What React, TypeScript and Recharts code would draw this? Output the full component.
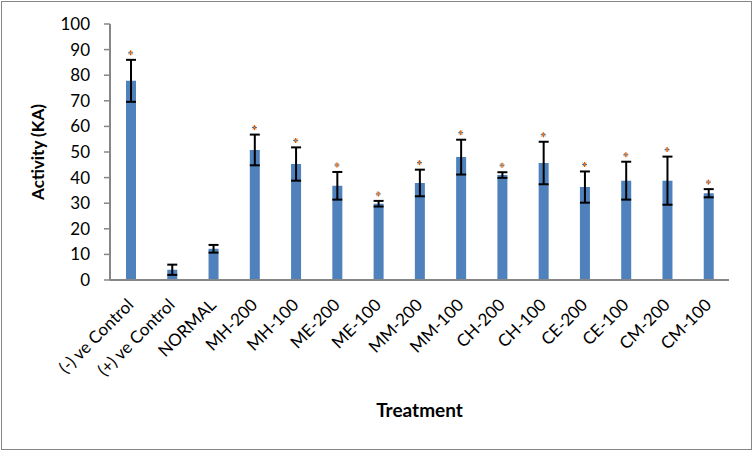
import React from 'react';
import { ComposedChart, Bar, ErrorBar, Scatter, XAxis, YAxis } from 'recharts';

const categories = [
  '(-) ve Control', '(+) ve Control', 'NORMAL', 'MH-200', 'MH-100', 'ME-200', 'ME-100',
  'MM-200', 'MM-100', 'CH-200', 'CH-100', 'CE-200', 'CE-100', 'CM-200', 'CM-100',
];
const activity = [77.8, 4, 12.2, 50.8, 45.3, 36.8, 29.8, 37.9, 48, 41, 45.7, 36.3, 38.8, 38.8, 33.9];
const errors = [8.2, 2, 1.5, 6, 6.5, 5.4, 1.1, 5.2, 6.8, 1.1, 8.3, 6.1, 7.4, 9.4, 1.6];
// which bars carry a significance star
const starred = [true, false, false, true, true, true, true, true, true, true, true, true, true, true, true];
const yTicks = [0, 10, 20, 30, 40, 50, 60, 70, 80, 90, 100];

const data = categories.map((name, i) => ({
  name,
  value: activity[i],
  err: errors[i],
  top: starred[i] ? activity[i] + errors[i] : null,
}));

const FONT = 'Lato, "Open Sans", sans-serif';
const GREY = '#868686';

const XTick = (props: any) => {
  const { x, y, payload } = props;
  const ex = x + 4;
  const ey = y + 26;
  return (
    <text
      x={ex}
      y={ey}
      transform={`rotate(-45 ${ex} ${ey})`}
      textAnchor="end"
      fontSize={17}
      fontFamily={FONT}
      fill="#000"
    >
      {payload.value}
    </text>
  );
};

const Star = (props: any) => {
  const { cx, cy } = props;
  if (cx == null || cy == null || isNaN(cy)) return null;
  const sy = cy - 7;
  return (
    <g>
      <line x1={cx - 2.5} y1={sy} x2={cx + 2.5} y2={sy} stroke="#2E75B6" strokeWidth={1.2} />
      <line x1={cx} y1={sy - 2.5} x2={cx} y2={sy + 2.5} stroke="#C55A11" strokeWidth={1.3} />
      <line x1={cx - 1.8} y1={sy - 1.8} x2={cx + 1.8} y2={sy + 1.8} stroke="#ED7D31" strokeWidth={0.9} />
      <line x1={cx - 1.8} y1={sy + 1.8} x2={cx + 1.8} y2={sy - 1.8} stroke="#ED7D31" strokeWidth={0.9} />
    </g>
  );
};

export default function App() {
  return (
    <div style={{ position: 'absolute', left: 0, top: 0, width: 753, height: 451, background: '#fff' }}>
      <ComposedChart
        width={753}
        height={451}
        data={data}
        margin={{ top: 24, right: 24, left: 0, bottom: 0 }}
      >
        <XAxis
          dataKey="name"
          interval={0}
          height={171}
          tickLine={false}
          tickSize={0}
          tickMargin={0}
          axisLine={{ stroke: GREY, strokeWidth: 2 }}
          tick={<XTick />}
          label={{
            content: (p: any) => {
              const vb = p.viewBox;
              return (
                <text
                  x={vb.x + vb.width / 2}
                  y={412}
                  textAnchor="middle"
                  dominantBaseline="middle"
                  fontSize={19}
                  fontWeight="bold"
                  fontFamily={FONT}
                  fill="#000"
                >
                  Treatment
                </text>
              );
            },
          }}
        />
        <YAxis
          width={110}
          domain={[0, 100]}
          ticks={yTicks}
          interval={0}
          tickSize={6}
          tickMargin={14}
          axisLine={{ stroke: GREY, strokeWidth: 2 }}
          tickLine={{ stroke: GREY, strokeWidth: 1.5 }}
          tick={{ fontSize: 17, fontFamily: FONT, fill: '#000' }}
          label={{
            content: (p: any) => {
              const vb = p.viewBox;
              const cy = vb.y + vb.height / 2;
              return (
                <text
                  x={40}
                  y={cy}
                  transform={`rotate(-90 40 ${cy})`}
                  textAnchor="middle"
                  dominantBaseline="middle"
                  fontSize={17}
                  fontWeight="bold"
                  fontFamily={FONT}
                  fill="#000"
                >
                  Activity (KA)
                </text>
              );
            },
          }}
        />
        <Bar dataKey="value" fill="#4F81BD" barSize={10} isAnimationActive={false}>
          <ErrorBar dataKey="err" width={5} stroke="#000" strokeWidth={2} direction="y" />
        </Bar>
        <Scatter dataKey="top" shape={<Star />} isAnimationActive={false} />
      </ComposedChart>
      <div
        style={{
          position: 'absolute',
          left: 1,
          top: 1,
          width: 751,
          height: 449,
          border: `1px solid ${GREY}`,
          boxSizing: 'border-box',
          pointerEvents: 'none',
        }}
      />
    </div>
  );
}
